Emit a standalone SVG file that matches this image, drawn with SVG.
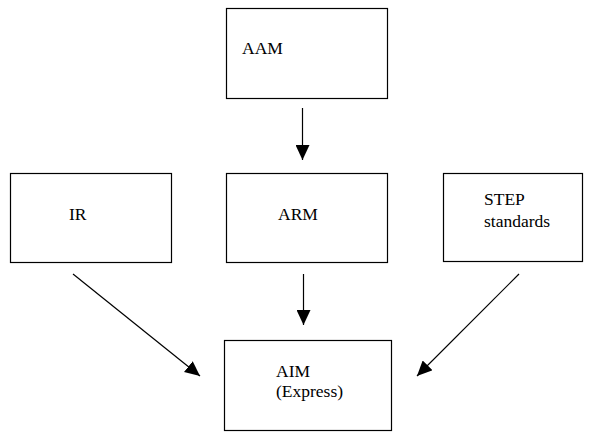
<svg xmlns="http://www.w3.org/2000/svg" width="595" height="432" viewBox="0 0 595 432">
<style>
.box{fill:#fff;stroke:#000;stroke-width:1.2}
.t{font-family:"Liberation Serif","Times New Roman",serif;font-size:17.5px;fill:#000}
.c{stroke:#000;stroke-width:1.2;fill:none}
</style>
<defs>
<marker id="ah" markerUnits="userSpaceOnUse" markerWidth="16" markerHeight="14" refX="15" refY="7" orient="auto">
<path d="M0,0 L15,7 L0,14 Z" fill="#000"/>
</marker>
</defs>
<rect width="595" height="432" fill="#fff"/>
<g id="AAM"><rect class="box" x="226.5" y="8.5" width="161" height="90"/><text class="t" x="242" y="54">AAM</text></g>
<g id="IR"><rect class="box" x="10.5" y="173.5" width="161" height="89"/><text class="t" x="69" y="220">IR</text></g>
<g id="ARM"><rect class="box" x="226.5" y="173.5" width="161" height="89"/><text class="t" x="278" y="220">ARM</text></g>
<g id="STEP"><rect class="box" x="443.5" y="173.5" width="139" height="88"/><text class="t" x="484" y="205">STEP</text><text class="t" x="484" y="227">standards</text></g>
<g id="AIM"><rect class="box" x="224.5" y="340.5" width="167" height="90"/><text class="t" x="276" y="377">AIM</text><text class="t" x="276" y="397">(Express)</text></g>
<g id="connectors">
<line class="c" x1="302.5" y1="108" x2="302.5" y2="160" marker-end="url(#ah)"/>
<line class="c" x1="303.5" y1="274" x2="303.5" y2="325" marker-end="url(#ah)"/>
<line class="c" x1="73" y1="274" x2="200" y2="376" marker-end="url(#ah)"/>
<line class="c" x1="519" y1="274" x2="417" y2="376" marker-end="url(#ah)"/>
</g>
</svg>
